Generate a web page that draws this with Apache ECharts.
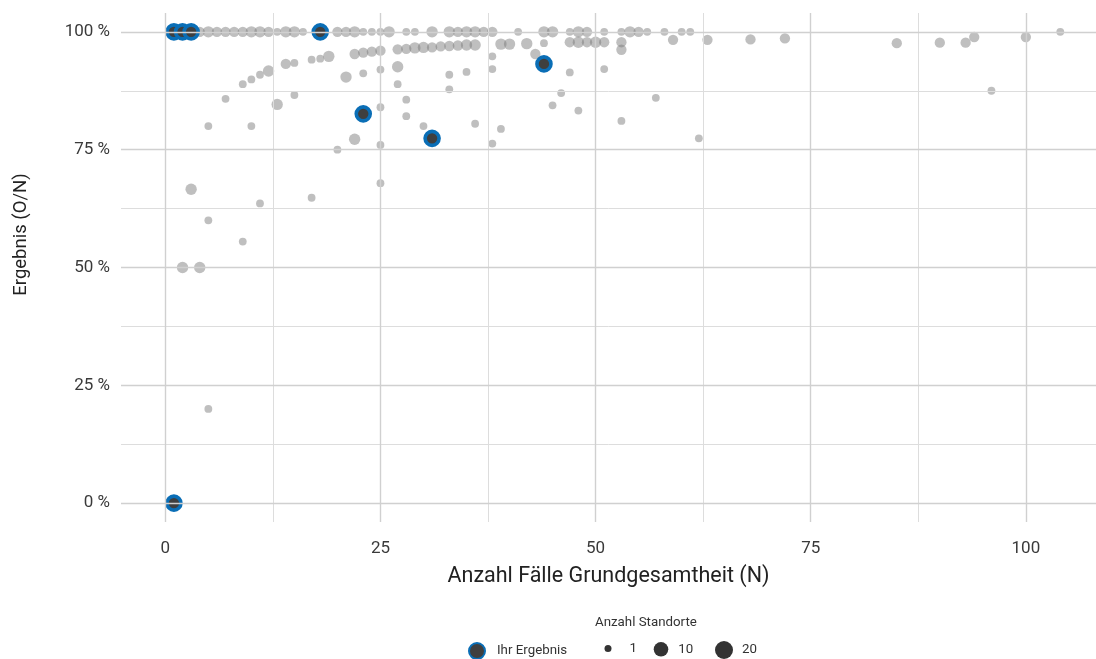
<!DOCTYPE html>
<html><head><meta charset="utf-8">
<script src="https://cdn.jsdelivr.net/npm/echarts@6/dist/echarts.min.js"></script>
<style>html,body{margin:0;padding:0;background:#fff}#c{width:1096px;height:659px}</style>
</head><body><div id="c"></div>
<script>
// ---- data ----
const xTicks = [0, 25, 50, 75, 100];
const yTicks = [0, 25, 50, 75, 100];
const xGridMajor = [0, 25, 50, 75, 100];
const xGridMinor = [12.5, 37.5, 62.5, 87.5];
const yGridMajor = [0, 25, 50, 75, 100];
const yGridMinor = [12.5, 37.5, 62.5, 87.5];
const sizeLegendValues = ['1', '10', '20'];

// [N, Ergebnis %, Anzahl Standorte]
const topRow = [
  [4,100,2],[5,100,3],[6,100,2],[7,100,2],[8,100,2],[9,100,2],[10,100,3],[11,100,3],[12,100,2],[13,100,1],
  [14,100,3],[15,100,3],[16,100,1],[20,100,2],[21,100,2],[22,100,3],[23,100,1],[24,100,1],[25,100,1],[26,100,3],
  [28,100,1],[29,100,1],[31,100,3],[33,100,3],[34,100,2],[35,100,3],[36,100,3],[37,100,2],[38,100,2],[41,100,1],
  [44,100,3],[45,100,3],[47,100,1],[48,100,3],[49,100,2],[51,100,1],[53,100,1],[54,100,3],[55,100,2],[56,100,1],
  [58,100,1],[60,100,1],[61,100,1],[104,100,1]
];
const upperBand = [
  [17,94.1,1],[18,94.3,1],[19,94.8,3],[22,95.3,2],[23,95.6,2],[24,95.8,2],[25,96.0,2],[27,96.3,2],[28,96.4,2],
  [29,96.6,3],[30,96.7,3],[31,96.7,2],[32,96.9,2],[33,97.0,2],[34,97.1,2],[35,97.2,3],[36,97.2,3],[39,97.4,3],
  [40,97.4,3],[42,97.5,3],[43,95.3,2],[44,97.6,1],[47,97.8,2],[48,97.8,3],[49,97.8,2],[50,97.8,3],[51,97.8,2],
  [53,97.8,2],[53,96.2,2],[59,98.3,2],[63,98.3,2],[68,98.4,2],[72,98.6,2],[85,97.6,2],[90,97.7,2],[93,97.7,2],
  [94,98.9,2],[100,98.9,2]
];
const scattered = [
  [5,80,1],[10,80,1],[7,85.8,1],[9,88.9,1],[10,89.9,1],[11,90.9,1],[12,91.7,3],[13,84.6,3],[14,93.2,2],[15,93.4,1],
  [15,86.6,1],[21,90.4,3],[23,91.2,1],[25,92.0,1],[27,92.6,3],[27,88.9,1],[28,85.6,1],[28,82.1,1],[25,84.0,1],
  [30,80.0,1],[20,75.0,1],[22,77.2,3],[25,76.0,1],[25,67.9,1],[17,64.8,1],[11,63.6,1],[3,66.6,3],[5,60.0,1],
  [9,55.5,1],[2,50,3],[4,50,3],[5,20,1],[33,90.9,1],[33,87.8,1],[35,91.5,1],[36,80.5,1],[38,94.8,1],[38,92.1,1],
  [38,76.3,1],[39,79.4,1],[45,84.4,1],[46,87.0,1],[47,91.4,1],[48,83.3,1],[51,92.1,1],[53,81.1,1],[57,86.0,1],
  [62,77.4,1],[96,87.5,1]
];
const ownResults = [[1,0],[1,100],[2,100],[3,100],[18,100],[23,82.6],[31,77.4],[44,93.2]];

// ---- chart ----
const FONT = 'Roboto';
function sz(n) { return 7 + 11 * Math.sqrt((n - 1) / 19); }
function ptSize(n) { return sz(n) + 0.8; }
const grayData = topRow.concat(upperBand, scattered);

const majorStyle = { color: '#d0d0d0', width: 1.4, type: 'solid' };
const minorStyle = { color: '#dddddd', width: 1, type: 'solid' };
const gridLines = []
  .concat(xGridMinor.map(v => ({ xAxis: v, lineStyle: minorStyle })))
  .concat(yGridMinor.map(v => ({ yAxis: v, lineStyle: minorStyle })))
  .concat(xGridMajor.map(v => ({ xAxis: v, lineStyle: majorStyle })))
  .concat(yGridMajor.map(v => ({ yAxis: v, lineStyle: majorStyle })));

const legendText = { fontFamily: FONT, fontSize: 13.3, color: '#333' };
function sizeLegend(name, d, cx, extraPad) {
  const h = Math.max(d, 16);
  return {
    data: [name], left: cx - d / 2, top: 650 - h / 2, padding: 0,
    itemWidth: d, itemHeight: d, selectedMode: false, icon: 'circle',
    textStyle: Object.assign({}, legendText, { padding: [0, 0, 0, extraPad] })
  };
}

const option = {
  animation: false,
  backgroundColor: '#fff',
  textStyle: { fontFamily: FONT },
  title: {
    text: 'Anzahl Standorte', left: 595, top: 616, padding: 0,
    textStyle: { fontFamily: FONT, fontSize: 13.3, fontWeight: 'normal', color: '#333' }
  },
  legend: [
    {
      data: ['Ihr Ergebnis'], left: 468, top: 642, padding: 0, itemWidth: 16, itemHeight: 16,
      selectedMode: false, icon: 'circle',
      textStyle: Object.assign({}, legendText, { padding: [0, 0, 0, 7] })
    },
    sizeLegend(sizeLegendValues[0], sz(1), 608, 13),
    sizeLegend(sizeLegendValues[1], sz(10), 661, 5),
    sizeLegend(sizeLegendValues[2], sz(20), 724, 4)
  ],
  grid: { left: 121, right: 0, top: 13, bottom: 137, containLabel: false },
  xAxis: {
    type: 'value', min: -5.15, max: 108.15,
    axisLine: { show: false }, axisTick: { show: false }, splitLine: { show: false },
    axisLabel: { customValues: xTicks, fontSize: 17, color: '#3a3a3a', margin: 18, fontFamily: FONT },
    name: 'Anzahl Fälle Grundgesamtheit (N)', nameLocation: 'middle', nameGap: 44,
    nameTextStyle: { fontSize: 21.5, color: '#222', fontFamily: FONT }
  },
  yAxis: {
    type: 'value', min: -4, max: 104,
    axisLine: { show: false }, axisTick: { show: false }, splitLine: { show: false },
    axisLabel: { customValues: yTicks, fontSize: 17, color: '#3a3a3a', margin: 11, fontFamily: FONT,
      formatter: v => v + ' %' },
    name: 'Ergebnis (O/N)', nameLocation: 'middle', nameGap: 90, nameRotate: 90,
    nameTextStyle: { fontSize: 18.5, color: '#222', fontFamily: FONT, padding: [0, 0, 0, 66] }
  },
  series: [
    {
      name: 'grid', type: 'scatter', data: [], z: 1, silent: true,
      markLine: { silent: true, symbol: 'none', label: { show: false }, animation: false, data: gridLines }
    },
    {
      name: 'Standorte', type: 'scatter', z: 2, data: grayData,
      symbolSize: v => ptSize(v[2]),
      itemStyle: { color: 'rgba(122,122,122,0.6)' }
    },
    {
      name: 'Ihr Ergebnis', type: 'scatter', z: 3, data: ownResults, symbolSize: 14,
      itemStyle: { color: '#3f3f3f', borderColor: '#0a6eb6', borderWidth: 3.6, opacity: 1 }
    },
    { name: sizeLegendValues[0], type: 'scatter', data: [], itemStyle: { color: '#000' } },
    { name: sizeLegendValues[1], type: 'scatter', data: [], itemStyle: { color: '#000' } },
    { name: sizeLegendValues[2], type: 'scatter', data: [], itemStyle: { color: '#000' } }
  ]
};
const chart = echarts.init(document.getElementById('c'), null, { renderer: 'canvas' });
chart.setOption(option);
</script>
</body></html>
